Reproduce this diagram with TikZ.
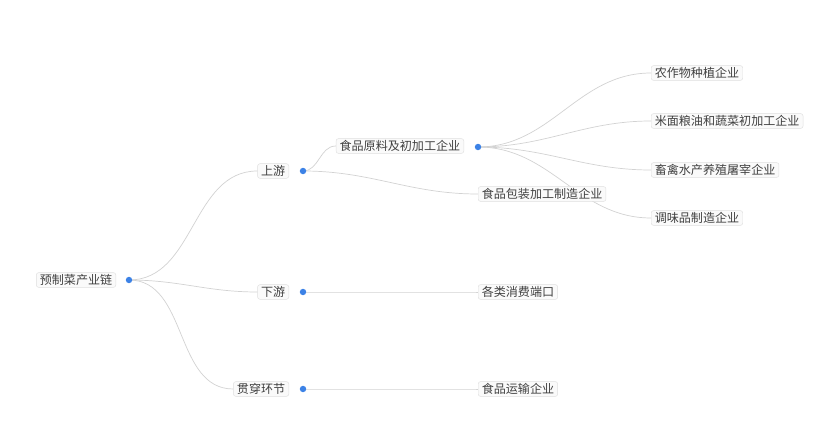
\documentclass[tikz,border=0pt]{standalone}
\usepackage{fontspec}
\setmainfont{Noto Sans CJK SC}
\begin{document}
\begin{tikzpicture}[x=0.03cm,y=-0.03cm,
    item/.style={draw=gray!25, fill=gray!4, rounded corners=2pt, inner xsep=3pt, inner ysep=1.5pt,
                 text=black!75, font=\fontsize{10.3}{12}\selectfont, anchor=west},
    parent/.style={item, anchor=east},
    dot/.style={circle, fill={rgb,255:red,60;green,130;blue,230}, inner sep=0pt, minimum size=5.5pt},
    link/.style={draw=gray!35, line width=0.6pt}]
  \useasboundingbox (0,0) rectangle (836,432);
  % nodes
  \node[parent] (root) at (116,280) {预制菜产业链};
  \node[parent] (up) at (289,171) {上游};
  \node[parent] (down) at (289,292) {下游};
  \node[parent] (through) at (289,389) {贯穿环节};
  \node[parent] (raw) at (464,146) {食品原料及初加工企业};
  \node[item] (consume) at (478,292) {各类消费端口};
  \node[item] (transport) at (478,389) {食品运输企业};
  \node[item] (crop) at (651,73) {农作物种植企业};
  \node[item] (grain) at (651,121) {米面粮油和蔬菜初加工企业};
  \node[item] (farm) at (651,170) {畜禽水产养殖屠宰企业};
  \node[item] (season) at (651,218) {调味品制造企业};
  % dots
  \coordinate (rootd) at (129,280);
  \coordinate (upd) at (303,171);
  \coordinate (downd) at (303,292);
  \coordinate (throughd) at (303,389);
  \coordinate (rawd) at (478,147);
  \coordinate (packw) at (478,194);
  % links
  \foreach \a/\b in {rootd/up.west, rootd/down.west, rootd/through.west, upd/raw.west, upd/packw,
                     downd/consume.west, throughd/transport.west,
                     rawd/crop.west, rawd/grain.west, rawd/farm.west, rawd/season.west}
    \draw[link] (\a) to[out=0,in=180] (\b);
  \node[item] (pack) at (packw) {食品包装加工制造企业};
  \foreach \d in {rootd, upd, downd, throughd, rawd}
    \node[dot] at (\d) {};
\end{tikzpicture}
\end{document}
